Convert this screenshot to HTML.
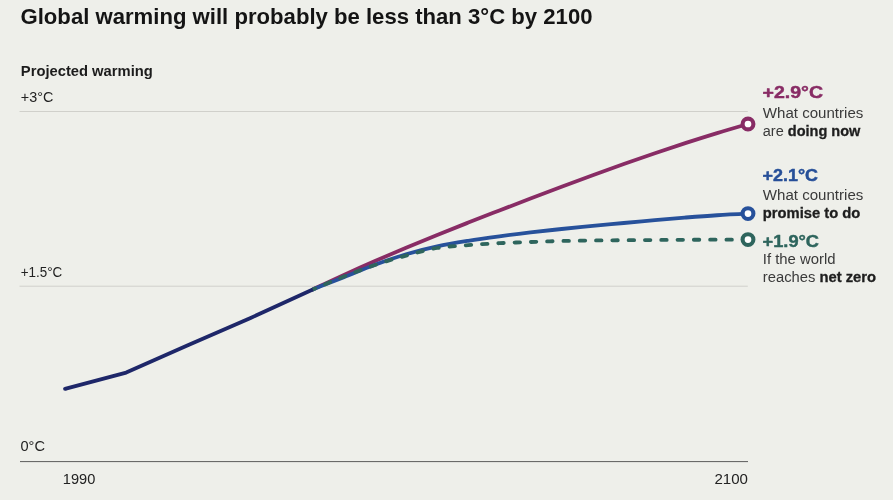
<!DOCTYPE html>
<html lang="en">
<head>
<meta charset="utf-8">
<title>Global warming will probably be less than 3°C by 2100</title>
<style>
  html, body { margin: 0; padding: 0; background: #eeefea; }
  body { width: 893px; height: 500px; overflow: hidden; }
  svg { display: block; will-change: transform; }
  text { font-family: "Liberation Sans", Arial, sans-serif; }
  .t { font-weight: 700; font-size: 21.3px; fill: #141414; }
  .sub { font-weight: 700; font-size: 13.8px; fill: #1c1c1c; }
  .ax { font-size: 14px; fill: #222222; }
  .val { font-weight: 700; font-size: 16.9px; stroke-width: 0.45px; stroke-linejoin: round; }
  .lab { font-size: 14px; fill: #3a3a3a; }
  .lab tspan.b { font-weight: 700; fill: #1e1e1e; stroke: #1e1e1e; stroke-width: 0.3px; }
</style>
</head>
<body>
<svg width="893" height="500" viewBox="0 0 893 500">
  <rect width="893" height="500" fill="#eeefea"/>
  <text class="t" x="20.5" y="24.1" textLength="572" lengthAdjust="spacingAndGlyphs">Global warming will probably be less than 3°C by 2100</text>
  <text class="sub" x="20.8" y="75.9" textLength="132" lengthAdjust="spacingAndGlyphs">Projected warming</text>

  <!-- gridlines -->
  <line x1="19.5" y1="111.5" x2="747.8" y2="111.5" stroke="#d0d0cb" stroke-width="1"/>
  <line x1="19.5" y1="286.2" x2="747.8" y2="286.2" stroke="#d0d0cb" stroke-width="1"/>
  <line x1="20" y1="461.6" x2="748" y2="461.6" stroke="#5c5c5c" stroke-width="1"/>

  <text class="ax" x="20.8" y="102.4" textLength="32.5" lengthAdjust="spacingAndGlyphs">+3°C</text>
  <text class="ax" x="20.8" y="277.3" textLength="41.5" lengthAdjust="spacingAndGlyphs">+1.5°C</text>
  <text class="ax" x="20.5" y="451.2" textLength="24.5" lengthAdjust="spacingAndGlyphs">0°C</text>
  <text class="ax" x="62.8" y="483.5" textLength="32.5" lengthAdjust="spacingAndGlyphs">1990</text>
  <text class="ax" x="714.5" y="483.5" textLength="33.5" lengthAdjust="spacingAndGlyphs">2100</text>

  <g fill="none" stroke-width="3.8" stroke-linejoin="round" stroke-linecap="round">
    <!-- purple (doing now) -->
    <path stroke="#882c65" d="M312.80,289.40 C323.17,284.50 333.53,279.59 343.90,274.86 C354.27,270.13 364.63,265.54 375.00,261.02 C385.37,256.50 395.73,252.10 406.10,247.76 C416.47,243.42 426.83,239.17 437.20,234.97 C447.57,230.77 457.93,226.66 468.30,222.57 C478.67,218.48 489.03,214.47 499.40,210.46 C509.77,206.46 520.13,202.48 530.50,198.54 C540.87,194.59 551.23,190.67 561.60,186.79 C571.97,182.91 582.33,179.07 592.70,175.28 C603.07,171.49 613.43,167.74 623.80,164.07 C634.17,160.40 644.53,156.79 654.90,153.26 C665.27,149.73 675.63,146.27 686.00,142.91 C696.37,139.55 706.73,136.26 717.10,133.10 C727.40,129.96 737.70,126.98 748.00,124.00"/>
    <!-- blue (promise) -->
    <path stroke="#27519b" d="M312.80,289.40 C323.17,285.36 333.53,281.33 343.90,277.23 C354.27,273.13 364.63,268.64 375.00,264.81 C385.37,260.98 395.73,257.34 406.10,254.27 C416.47,251.20 426.83,248.64 437.20,246.40 C447.57,244.16 457.93,242.50 468.30,240.82 C478.67,239.14 489.03,237.74 499.40,236.34 C509.77,234.94 520.13,233.66 530.50,232.44 C540.87,231.22 551.23,230.09 561.60,229.00 C571.97,227.91 582.33,226.90 592.70,225.90 C603.07,224.90 613.43,223.95 623.80,223.00 C634.17,222.05 644.53,221.10 654.90,220.18 C665.27,219.26 675.63,218.32 686.00,217.50 C696.37,216.68 706.73,215.88 717.10,215.25 C727.40,214.62 737.70,214.16 748.00,213.70"/>
    <!-- green dashed (net zero) -->
    <path stroke="#2e655d" stroke-dasharray="5.5 10.8" stroke-dashoffset="3" d="M312.80,289.40 C323.17,284.98 333.53,280.57 343.90,276.50 C354.27,272.43 364.63,268.48 375.00,265.00 C385.37,261.52 395.73,258.43 406.10,255.60 C416.47,252.77 426.83,249.73 437.20,248.00 C447.57,246.27 457.93,246.00 468.30,245.20 C478.67,244.40 489.03,243.73 499.40,243.20 C509.77,242.67 520.13,242.37 530.50,242.00 C540.87,241.63 551.23,241.25 561.60,241.00 C571.97,240.75 582.33,240.63 592.70,240.50 C603.07,240.37 613.43,240.28 623.80,240.20 C634.17,240.12 644.53,240.07 654.90,240.00 C665.27,239.93 675.63,239.85 686.00,239.80 C696.37,239.75 706.73,239.73 717.10,239.70 C727.40,239.67 737.70,239.63 748.00,239.60"/>
    <!-- navy historical -->
    <path stroke="#1e2769" stroke-linecap="butt" d="M65,388.8 L126.2,372.6 L188.4,345 L250.6,318 L312.8,289.4"/>
  </g>
  <circle cx="65" cy="388.8" r="1.9" fill="#1e2769"/>
  <g stroke-width="4.1" fill="#ffffff">
    <circle cx="748" cy="124" r="5.4" stroke="#882c65"/>
    <circle cx="748" cy="213.6" r="5.4" stroke="#27519b"/>
    <circle cx="748" cy="239.6" r="5.4" stroke="#2e655d"/>
  </g>

  <!-- right labels -->
  <text class="val" x="762.5" y="97.8" fill="#882c65" stroke="#882c65" textLength="60.5" lengthAdjust="spacingAndGlyphs">+2.9°C</text>
  <text class="lab" x="762.8" y="117.8" textLength="100.5" lengthAdjust="spacingAndGlyphs">What countries</text>
  <text class="lab" x="762.8" y="135.5" textLength="97.5" lengthAdjust="spacingAndGlyphs"><tspan>are </tspan><tspan class="b">doing now</tspan></text>

  <text class="val" x="762.5" y="181" fill="#264f98" stroke="#264f98" textLength="55.5" lengthAdjust="spacingAndGlyphs">+2.1°C</text>
  <text class="lab" x="762.8" y="200.2" textLength="100.5" lengthAdjust="spacingAndGlyphs">What countries</text>
  <text class="lab" x="762.8" y="217.6" textLength="97.5" lengthAdjust="spacingAndGlyphs"><tspan class="b">promise to do</tspan></text>

  <text class="val" x="762.5" y="246.5" fill="#2e655d" stroke="#2e655d" textLength="56.5" lengthAdjust="spacingAndGlyphs">+1.9°C</text>
  <text class="lab" x="762.8" y="264.3" textLength="72.8" lengthAdjust="spacingAndGlyphs">If the world</text>
  <text class="lab" x="762.8" y="282" textLength="113.3" lengthAdjust="spacingAndGlyphs"><tspan>reaches </tspan><tspan class="b">net zero</tspan></text>
</svg>
</body>
</html>
